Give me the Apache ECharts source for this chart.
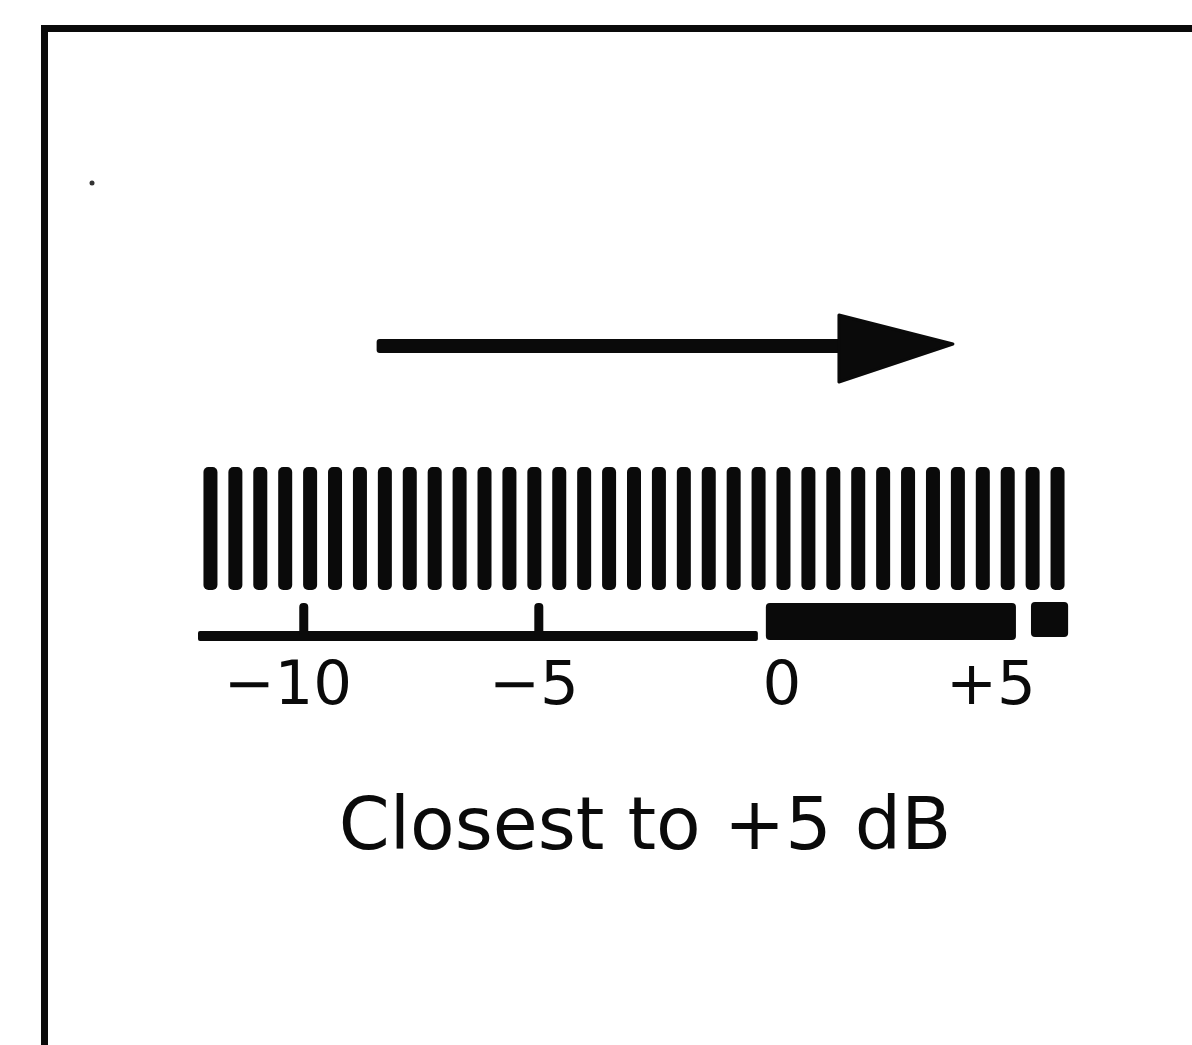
<!DOCTYPE html>
<html>
<head>
<meta charset="utf-8">
<script src="https://cdn.jsdelivr.net/npm/echarts@6/dist/echarts.min.js"></script>
<style>
  html, body { margin: 0; padding: 0; background: #fff; }
  #chart { width: 1192px; height: 1045px; }
</style>
</head>
<body>
<div id="chart"></div>
<script>
// ---- data ----
const segmentCategories = ['S1','S2','S3','S4','S5','S6','S7','S8','S9','S10','S11','S12','S13','S14','S15','S16','S17','S18','S19','S20','S21','S22','S23','S24','S25','S26','S27','S28','S29','S30','S31','S32','S33','S34','S35'];
const segmentLit = [1,1,1,1,1,1,1,1,1,1,1,1,1,1,1,1,1,1,1,1,1,1,1,1,1,1,1,1,1,1,1,1,1,1,1];
const scaleMin = -12.25;
const scaleMax = 6.3;
const tickValues = [-10, -5, 0, 5];
const tickMarks = [-10, -5];
const thinScale = [[-12.25, -0.34]];
const thickZones = [[-0.17, 5.15], [5.47, 6.26]];
const arrowRange = [[-8.45, 3.81]];
const caption = 'Closest to +5 dB';

const INK = '#0a0a0a';
const FONT = '"DejaVu Sans", "Liberation Sans", sans-serif';
const labelShift = { '-10': -16, '-5': -5, '0': 8, '5': -18 };

function fmt(v) {
  if (v === 0) return '0';
  return v > 0 ? '+' + v : '\u2212' + Math.abs(v);
}

const chart = echarts.init(document.getElementById('chart'), null, { renderer: 'canvas' });

const gridLeft = 198, gridWidth = 872;

const option = {
  backgroundColor: '#ffffff',
  animation: false,
  title: {
    text: caption,
    left: 640,
    textAlign: 'center',
    top: 789,
    textStyle: { fontFamily: FONT, fontSize: 73, fontWeight: 'normal', color: INK }
  },
  grid: [
    { left: gridLeft, width: gridWidth, top: 467, height: 123 },
    { left: gridLeft, width: gridWidth, top: 600, height: 42 },
    { left: gridLeft, width: gridWidth, top: 310, height: 75 }
  ],
  xAxis: [
    { gridIndex: 0, type: 'category', data: segmentCategories, boundaryGap: true, show: false },
    {
      gridIndex: 1, type: 'value', min: scaleMin, max: scaleMax,
      axisLine: { show: false }, axisTick: { show: false }, splitLine: { show: false },
      axisLabel: {
        customValues: tickValues,
        margin: 16,
        formatter: function (v) {
          const s = labelShift[String(v)] || 0;
          const key = s < 0 ? 'l' + (-s) : 'r' + s;
          return '{' + key + '|' + fmt(v) + '}';
        },
        rich: (function () {
          const r = {};
          Object.keys(labelShift).forEach(function (k) {
            const s = labelShift[k];
            const key = s < 0 ? 'l' + (-s) : 'r' + s;
            r[key] = {
              fontFamily: FONT, fontSize: 61, color: INK,
              padding: s < 0 ? [0, -2 * s, 0, 0] : [0, 0, 0, 2 * s]
            };
          });
          return r;
        })()
      }
    },
    { gridIndex: 2, type: 'value', min: scaleMin, max: scaleMax, show: false }
  ],
  yAxis: [
    { gridIndex: 0, type: 'value', min: 0, max: 1, show: false },
    { gridIndex: 1, type: 'value', min: 0, max: 1, show: false },
    { gridIndex: 2, type: 'value', min: 0, max: 1, show: false }
  ],
  series: [
    {
      type: 'bar', xAxisIndex: 0, yAxisIndex: 0,
      data: segmentLit, barWidth: 14,
      itemStyle: { color: INK, borderRadius: 5 }
    },
    {
      type: 'custom', xAxisIndex: 1, yAxisIndex: 1, clip: false,
      data: thinScale,
      encode: { x: [0, 1] },
      renderItem: function (params, api) {
        const a = api.coord([api.value(0), 0]);
        const b = api.coord([api.value(1), 0]);
        return { type: 'rect', shape: { x: a[0], y: a[1] - 11, width: b[0] - a[0], height: 10, r: 2 }, style: { fill: INK } };
      }
    },
    {
      type: 'custom', xAxisIndex: 1, yAxisIndex: 1, clip: false,
      data: tickMarks.map(function (v) { return [v]; }),
      encode: { x: 0 },
      renderItem: function (params, api) {
        const a = api.coord([api.value(0), 0]);
        return { type: 'rect', shape: { x: a[0] - 4.5, y: a[1] - 39, width: 9, height: 32, r: [4, 4, 0, 0] }, style: { fill: INK } };
      }
    },
    {
      type: 'custom', xAxisIndex: 1, yAxisIndex: 1, clip: false,
      data: thickZones,
      encode: { x: [0, 1] },
      renderItem: function (params, api) {
        const a = api.coord([api.value(0), 0]);
        const b = api.coord([api.value(1), 0]);
        const big = params.dataIndex === 0;
        return {
          type: 'rect',
          shape: { x: a[0], y: a[1] - (big ? 39 : 40), width: b[0] - a[0], height: big ? 37 : 35, r: 4 },
          style: { fill: INK }
        };
      }
    },
    {
      type: 'custom', xAxisIndex: 2, yAxisIndex: 2, clip: false,
      data: arrowRange,
      encode: { x: [0, 1] },
      renderItem: function (params, api) {
        const a = api.coord([api.value(0), 0.5]);
        const b = api.coord([api.value(1), 0.5]);
        const cy = a[1] - 1.5;
        const headLen = 114;
        const baseX = b[0] - headLen;
        return {
          type: 'group',
          children: [
            { type: 'rect', shape: { x: a[0], y: cy - 7, width: baseX - a[0] + 4, height: 14, r: 3 }, style: { fill: INK } },
            { type: 'polygon', shape: { points: [[baseX, cy - 31], [b[0], cy - 2], [baseX, cy + 36]] }, style: { fill: INK, stroke: INK, lineWidth: 3, lineJoin: 'round' } }
          ]
        };
      }
    }
  ],
  graphic: [
    { type: 'rect', shape: { x: 41, y: 25, width: 7, height: 1030 }, style: { fill: INK } },
    { type: 'rect', shape: { x: 41, y: 25, width: 1160, height: 7 }, style: { fill: INK } },
    { type: 'circle', shape: { cx: 92, cy: 183, r: 2.5 }, style: { fill: '#333' } }
  ]
};

chart.setOption(option);
</script>
</body>
</html>
